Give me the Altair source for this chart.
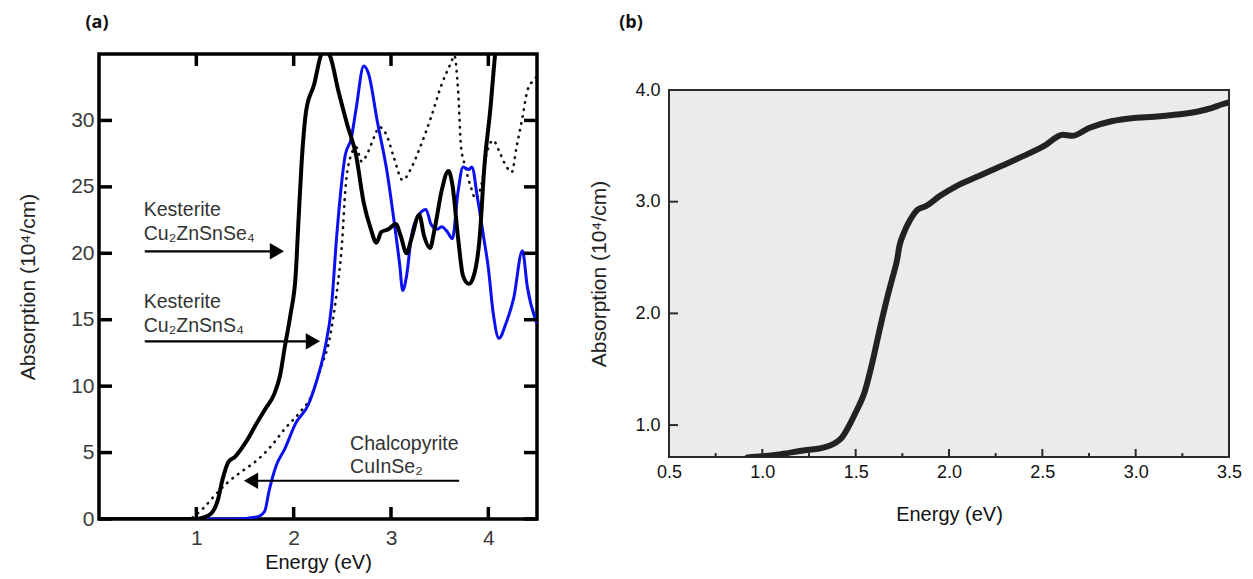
import altair as alt
import pandas as pd

# ---------------- Panel (a) data ----------------
czt_se_x = [0.0, 0.6, 1.0, 1.04, 1.15, 1.22, 1.27, 1.33, 1.40, 1.51, 1.62, 1.71, 1.80, 1.86, 1.91, 1.97,
            2.02, 2.05, 2.08, 2.13, 2.21, 2.28, 2.31, 2.37, 2.46, 2.55, 2.64, 2.72, 2.79, 2.85, 2.90,
            2.97, 3.05, 3.10, 3.16, 3.21, 3.29, 3.34, 3.40, 3.45, 3.52, 3.59, 3.63, 3.69, 3.74, 3.80,
            3.85, 3.91, 3.96, 4.02, 4.07, 4.10]
czt_se_y = [0.0, 0.0, 0.0, 0.05, 0.4, 1.4, 3.0, 4.3, 4.7, 5.8, 7.2, 8.3, 9.4, 10.8, 13.0, 15.5,
            18.3, 22.5, 26.6, 30.8, 32.7, 34.9, 35.3, 34.9, 32.2, 29.7, 27.4, 23.8, 21.9, 20.8, 21.6,
            21.8, 22.2, 21.3, 20.0, 21.1, 22.9, 21.3, 20.4, 21.9, 24.7, 26.2, 25.2, 21.1, 18.3, 17.7,
            18.3, 21.1, 26.6, 30.8, 35.0, 37.0]

czts_x = [1.10, 1.40, 1.62, 1.70, 1.75, 1.82, 1.91, 2.02, 2.15, 2.24, 2.32, 2.39, 2.44, 2.48, 2.53,
          2.59, 2.64, 2.72, 2.77, 2.86, 2.96, 3.03, 3.09, 3.12, 3.16, 3.21, 3.27, 3.36, 3.41, 3.47,
          3.52, 3.58, 3.63, 3.69, 3.74, 3.80, 3.83, 3.89, 3.95, 4.00, 4.05, 4.11, 4.18, 4.26, 4.35,
          4.40, 4.50]
czts_y = [0.0, 0.0, 0.15, 0.55, 2.2, 4.0, 5.3, 7.2, 8.6, 10.5, 12.8, 16.1, 21.1, 24.4, 27.4,
          28.6, 30.8, 34.1, 33.5, 29.9, 26.1, 22.5, 19.1, 17.2, 18.3, 21.3, 22.7, 23.3, 22.2, 21.8,
          22.0, 21.6, 21.1, 24.7, 26.5, 26.3, 26.5, 24.1, 21.3, 18.9, 15.5, 13.6, 14.7, 16.6, 20.2,
          17.5, 14.7]

cis_x = [0.96, 1.07, 1.18, 1.33, 1.47, 1.62, 1.77, 1.91, 2.06, 2.17, 2.28, 2.37, 2.44, 2.50, 2.53,
         2.59, 2.64, 2.70, 2.75, 2.83, 2.88, 2.96, 3.03, 3.12, 3.20, 3.30, 3.41, 3.52, 3.62, 3.65,
         3.69, 3.72, 3.76, 3.82, 3.87, 3.93, 3.98, 4.05, 4.11, 4.18, 4.24, 4.29, 4.35, 4.40, 4.46, 4.50]
cis_y = [0.1, 0.8, 1.7, 2.8, 3.6, 4.4, 5.5, 6.8, 8.0, 9.1, 11.4, 13.6, 16.9, 21.1, 24.7,
         27.4, 28.0, 26.9, 27.4, 28.8, 29.5, 28.8, 27.2, 25.5, 26.3, 28.0, 30.2, 32.7, 34.4, 34.9,
         32.2, 28.0, 26.6, 25.0, 24.1, 25.2, 27.4, 28.5, 27.7, 26.6, 26.1, 28.0, 30.2, 32.2, 33.0, 33.3]

a_xticks = [1, 2, 3, 4]
a_yticks = [0, 5, 10, 15, 20, 25, 30]

# annotations (text lines, x, y in data units)
ann_text = ["Kesterite", "Cu\u2082ZnSnSe\u2084", "Kesterite", "Cu\u2082ZnSnS\u2084", "Chalcopyrite", "CuInSe\u2082"]
ann_x = [0.46, 0.46, 0.46, 0.46, 2.58, 2.58]
ann_y = [22.8, 21.0, 15.9, 14.1, 5.2, 3.5]

# arrows: start x, tip x, y, direction
arr_x1 = [0.47, 0.47, 3.70]
arr_tip = [1.90, 2.27, 1.49]
arr_y = [20.15, 13.37, 2.88]
arr_dir = ["right", "right", "left"]

# ---------------- Panel (b) data ----------------
b_x = [0.92, 1.00, 1.10, 1.21, 1.33, 1.39, 1.427, 1.45, 1.505, 1.545, 1.592, 1.632, 1.675, 1.699,
       1.722, 1.734, 1.758, 1.793, 1.833, 1.876, 1.95, 2.04, 2.16, 2.28, 2.40, 2.51, 2.61, 2.66,
       2.75, 2.87, 2.99, 3.10, 3.22, 3.34, 3.41, 3.46, 3.50]
b_y = [0.71, 0.72, 0.74, 0.77, 0.80, 0.84, 0.89, 0.95, 1.13, 1.28, 1.58, 1.88, 2.18, 2.33,
       2.48, 2.60, 2.72, 2.84, 2.93, 2.96, 3.05, 3.14, 3.23, 3.32, 3.41, 3.50, 3.60, 3.59,
       3.66, 3.72, 3.75, 3.76, 3.78, 3.81, 3.84, 3.87, 3.89]
b_xticks = [0.5, 1.0, 1.5, 2.0, 2.5, 3.0, 3.5]
b_xminor = [0.75, 1.25, 1.75, 2.25, 2.75, 3.25]
b_yticks = [1.0, 2.0, 3.0, 4.0]

FONT = "Liberation Sans"
AW, AH = 438, 465
BW, BH = 560, 367

# ---------------- Panel (a) ----------------
xs_a = alt.Scale(domain=[0, 4.5], nice=False, zero=False)
ys_a = alt.Scale(domain=[0, 35], nice=False, zero=False)
xax_a = alt.Axis(title="Energy (eV)", values=a_xticks, format="d", ticks=False, tickSize=0, domain=False,
                 grid=False, labelFont=FONT, labelFontSize=21, labelColor="#3a3a3a", labelPadding=8,
                 labelFlush=False,
                 titleFont=FONT, titleFontSize=20, titleFontWeight="normal", titleColor="#111", titlePadding=4)
yax_a = alt.Axis(title="Absorption (10\u2074/cm)", values=a_yticks, format="d", ticks=False, tickSize=0,
                 domain=False, grid=False, labelFont=FONT, labelFontSize=21, labelColor="#3a3a3a",
                 labelPadding=5, titleFont=FONT, titleFontSize=21, titleFontWeight="normal",
                 titleColor="#222", titlePadding=32)

X = lambda: alt.X("x:Q", scale=xs_a, axis=xax_a)
Y = lambda: alt.Y("y:Q", scale=ys_a, axis=yax_a)

df_se = pd.DataFrame({"x": czt_se_x, "y": czt_se_y})
df_s = pd.DataFrame({"x": czts_x, "y": czts_y})
df_cis = pd.DataFrame({"x": cis_x, "y": cis_y})

l_cis = alt.Chart(df_cis).mark_line(clip=True, color="#111", strokeWidth=2.6, strokeDash=[0.5, 6.5],
                                    strokeCap="round", interpolate="monotone").encode(x=X(), y=Y())
l_s = alt.Chart(df_s).mark_line(clip=True, color="#0a10f0", strokeWidth=3, interpolate="monotone").encode(x=X(), y=Y())
l_se = alt.Chart(df_se).mark_line(clip=True, color="#000", strokeWidth=4, interpolate="monotone").encode(x=X(), y=Y())

df_xt = pd.DataFrame({"x": a_xticks})
df_yt = pd.DataFrame({"y": a_yticks})
tk = dict(color="#000", strokeWidth=3.5)
t_bot = alt.Chart(df_xt).mark_rule(**tk).encode(x=X(), y=alt.value(AH), y2=alt.value(AH - 12))
t_top = alt.Chart(df_xt).mark_rule(**tk).encode(x=X(), y=alt.value(0), y2=alt.value(12))
t_left = alt.Chart(df_yt).mark_rule(**tk).encode(y=Y(), x=alt.value(0), x2=alt.value(13))
t_right = alt.Chart(df_yt).mark_rule(**tk).encode(y=Y(), x=alt.value(AW), x2=alt.value(AW - 13))

df_ann = pd.DataFrame({"t": ann_text, "x": ann_x, "y": ann_y})
texts = alt.Chart(df_ann).mark_text(align="left", baseline="alphabetic", font=FONT, fontSize=19.5,
                                    color="#333").encode(x=X(), y=Y(), text="t:N")

df_arr = pd.DataFrame({"x": arr_x1, "x2": [t - 0.08 if d == "right" else t + 0.08 for t, d in zip(arr_tip, arr_dir)],
                       "tip": arr_tip, "y": arr_y, "d": arr_dir})
arr_lines = alt.Chart(df_arr).mark_rule(color="#000", strokeWidth=2.2).encode(x=X(), x2="x2:Q", y=Y())
head_r = alt.Chart(df_arr).transform_filter(alt.datum.d == "right").mark_point(
    shape="triangle-right", filled=True, color="#000", size=270, opacity=1, xOffset=-7).encode(
    x=alt.X("tip:Q", scale=xs_a, axis=xax_a), y=Y())
head_l = alt.Chart(df_arr).transform_filter(alt.datum.d == "left").mark_point(
    shape="triangle-left", filled=True, color="#000", size=270, opacity=1, xOffset=7).encode(
    x=alt.X("tip:Q", scale=xs_a, axis=xax_a), y=Y())

lab_a = alt.Chart(pd.DataFrame({"t": ["(a)"]})).mark_text(
    font="Open Sans", fontWeight="bold", fontSize=18, color="#111", align="center", baseline="middle"
).encode(text="t:N", x=alt.value(-2), y=alt.value(-31))

panel_a = alt.layer(l_cis, l_s, l_se, t_bot, t_top, t_left, t_right, arr_lines, head_r, head_l, texts, lab_a
                    ).properties(width=AW, height=AH,
                                 view=alt.ViewBackground(stroke="#000", strokeWidth=3.5, fill="white"))

# ---------------- Panel (b) ----------------
xs_b = alt.Scale(domain=[0.5, 3.5], nice=False, zero=False)
ys_b = alt.Scale(domain=[0.714, 4.0], nice=False, zero=False)
xax_b = alt.Axis(title="Energy (eV)", values=b_xticks, format=".1f", ticks=False, tickSize=0, domain=False,
                 grid=False, labelFont=FONT, labelFontSize=18, labelColor="#111", labelPadding=6,
                 labelFlush=False,
                 titleFont=FONT, titleFontSize=20, titleFontWeight="normal", titleColor="#111", titlePadding=23)
yax_b = alt.Axis(title="Absorption (10\u2074/cm)", values=b_yticks, format=".1f", ticks=False, tickSize=0,
                 domain=False, grid=False, labelFont=FONT, labelFontSize=18, labelColor="#111",
                 labelPadding=9, labelFlush=False, titleFont=FONT, titleFontSize=21, titleFontWeight="normal",
                 titleColor="#222", titlePadding=25)
XB = lambda: alt.X("x:Q", scale=xs_b, axis=xax_b)
YB = lambda: alt.Y("y:Q", scale=ys_b, axis=yax_b)

df_b = pd.DataFrame({"x": b_x, "y": b_y})
l_b = alt.Chart(df_b).mark_line(clip=True, color="#222", strokeWidth=6, strokeCap="round",
                                interpolate="monotone").encode(x=XB(), y=YB())
tkb = dict(color="#2b2b2b", strokeWidth=2)
bt_major = alt.Chart(pd.DataFrame({"x": b_xticks})).mark_rule(**tkb).encode(
    x=XB(), y=alt.value(BH), y2=alt.value(BH - 8))
bt_minor = alt.Chart(pd.DataFrame({"x": b_xminor})).mark_rule(**tkb).encode(
    x=XB(), y=alt.value(BH), y2=alt.value(BH - 4))
bt_left = alt.Chart(pd.DataFrame({"y": b_yticks})).mark_rule(**tkb).encode(
    y=YB(), x=alt.value(0), x2=alt.value(9))

panel_b = alt.layer(l_b, bt_major, bt_minor, bt_left).properties(
    width=BW, height=BH, view=alt.ViewBackground(stroke="#2b2b2b", strokeWidth=2, fill="#EBEBEB"))

spacer_b = alt.Chart(pd.DataFrame({"t": ["(b)"]})).mark_text(
    font="Open Sans", fontWeight="bold", fontSize=18, color="#111", align="center", baseline="middle"
).encode(text="t:N", x=alt.value(-38), y=alt.value(-31)).properties(
    width=BW, height=1, view=alt.ViewBackground(stroke=None, fill=None))

col_b = alt.vconcat(spacer_b, panel_b, spacing=25)

chart = alt.hconcat(panel_a, col_b, spacing=46).properties(
    padding={"left": 15, "top": 12, "right": 5, "bottom": 5},
    background="white"
).configure_view(stroke=None)

chart.save("out.html", embed_options={"renderer": "svg", "actions": False})
